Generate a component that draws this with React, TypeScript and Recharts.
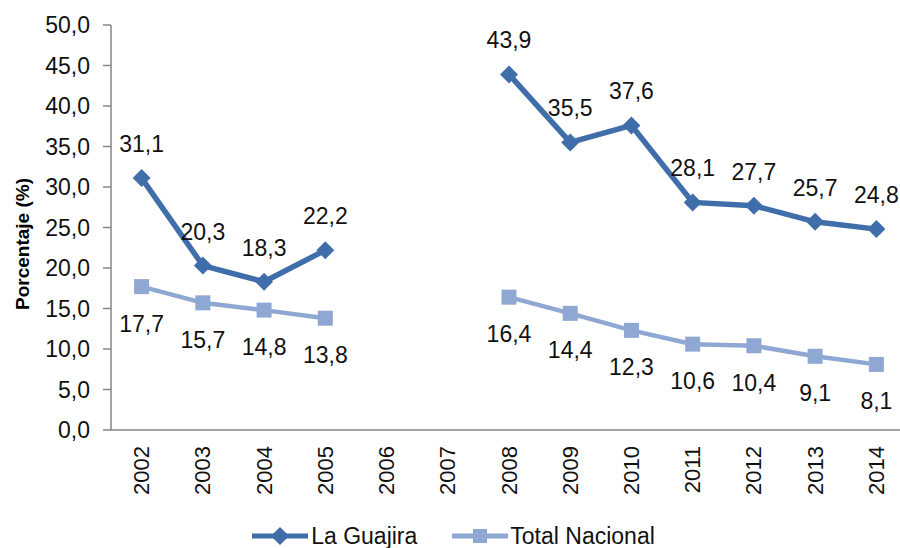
import React from 'react'
import { LineChart, Line, XAxis, YAxis, Legend, LabelList } from 'recharts'

const years = [2002, 2003, 2004, 2005, 2006, 2007, 2008, 2009, 2010, 2011, 2012, 2013, 2014]
const laGuajira = [31.1, 20.3, 18.3, 22.2, null, null, 43.9, 35.5, 37.6, 28.1, 27.7, 25.7, 24.8]
const totalNacional = [17.7, 15.7, 14.8, 13.8, null, null, 16.4, 14.4, 12.3, 10.6, 10.4, 9.1, 8.1]
const yTicks = [0, 5, 10, 15, 20, 25, 30, 35, 40, 45, 50]
const bandEdges = [2001.5, 2002.5, 2003.5, 2004.5, 2005.5, 2006.5, 2007.5, 2008.5, 2009.5, 2010.5, 2011.5, 2012.5, 2013.5, 2014.5]

const data = years.map((year, i) => ({ year, guajira: laGuajira[i], nacional: totalNacional[i] }))

const DARK = '#3F6EAA'
const LIGHT = '#8FA7D3'
const AXIS = '#868686'
const INK = '#111'
const FONT = '"Liberation Sans", Arial, sans-serif'

const fmt = (v: number) => v.toFixed(1).replace('.', ',')

const Diamond = ({ cx, cy }: any) => {
  if (cx == null || cy == null) return null
  return <path d={`M${cx},${cy - 9}L${cx + 9},${cy}L${cx},${cy + 9}L${cx - 9},${cy}Z`} fill={DARK} />
}

const Square = ({ cx, cy }: any) => {
  if (cx == null || cy == null) return null
  return <rect x={cx - 7.5} y={cy - 7.5} width={15} height={15} fill={LIGHT} />
}

const YearTick = ({ x, y, payload }: any) => (
  <text
    x={x} y={y}
    transform={`rotate(-90 ${x} ${y})`}
    textAnchor="end" dominantBaseline="central"
    fontSize={22} fill={INK} fontFamily={FONT}
  >
    {payload.value}
  </text>
)

const ValueLabel = (below: boolean) => (props: any) => {
  const { x, y, value } = props
  if (value == null) return null
  return (
    <text
      x={x} y={below ? y + 37 : y - 34}
      textAnchor="middle" dominantBaseline="central"
      fontSize={23} fill={INK} fontFamily={FONT}
    >
      {fmt(value)}
    </text>
  )
}

const LegendContent = () => (
  <div style={{ display: 'flex', justifyContent: 'center', gap: 35, height: 24, fontFamily: FONT, fontSize: 23, color: INK }}>
    <div style={{ display: 'flex', alignItems: 'center' }}>
      <svg width={56} height={24}>
        <line x1={0} y1={12} x2={56} y2={12} stroke={DARK} strokeWidth={5} />
        <path d="M28,3L37,12L28,21L19,12Z" fill={DARK} />
      </svg>
      <span style={{ marginLeft: 3, lineHeight: '24px' }}>La Guajira</span>
    </div>
    <div style={{ display: 'flex', alignItems: 'center' }}>
      <svg width={56} height={24}>
        <line x1={0} y1={12} x2={56} y2={12} stroke={LIGHT} strokeWidth={5} />
        <rect x={21} y={5} width={14} height={14} fill={LIGHT} />
      </svg>
      <span style={{ marginLeft: 2, lineHeight: '24px' }}>Total Nacional</span>
    </div>
  </div>
)

export default function App() {
  return (
    <div style={{ position: 'absolute', left: 0, top: 0, width: 900, height: 548, overflow: 'hidden', background: '#fff' }}>
      <LineChart width={920} height={548} data={data} margin={{ top: 25, right: 13, left: 0, bottom: 0 }}>
        <XAxis
          xAxisId="marks" dataKey="year" type="number" domain={[2001.5, 2014.5]}
          ticks={bandEdges} tick={false} axisLine={false}
          tickLine={{ stroke: AXIS, strokeWidth: 1.5 }} tickSize={7} height={1}
        />
        <XAxis
          dataKey="year" type="number" domain={[2001.5, 2014.5]} ticks={years}
          tick={<YearTick />} tickLine={false} tickSize={0} tickMargin={16}
          axisLine={{ stroke: AXIS, strokeWidth: 1.5 }} height={93}
        />
        <YAxis
          domain={[0, 50]} ticks={yTicks} width={111} interval={0}
          tickFormatter={fmt} tickSize={8} tickMargin={13}
          tick={{ fontSize: 23, fill: INK, fontFamily: FONT }}
          axisLine={{ stroke: AXIS, strokeWidth: 1.5 }}
          tickLine={{ stroke: AXIS, strokeWidth: 1.5 }}
          label={{
            content: () => (
              <text
                x={22} y={244} transform="rotate(-90 22 244)"
                textAnchor="middle" dominantBaseline="central"
                fontSize={19} fontWeight="bold" fill="#000" fontFamily={FONT}
              >
                Porcentaje (%)
              </text>
            ),
          }}
        />
        <Legend verticalAlign="bottom" content={<LegendContent />} />
        <Line
          dataKey="nacional" name="Total Nacional" stroke={LIGHT} strokeWidth={4.5}
          dot={<Square />} activeDot={false} isAnimationActive={false}
        >
          <LabelList dataKey="nacional" content={ValueLabel(true)} />
        </Line>
        <Line
          dataKey="guajira" name="La Guajira" stroke={DARK} strokeWidth={5.5}
          dot={<Diamond />} activeDot={false} isAnimationActive={false}
        >
          <LabelList dataKey="guajira" content={ValueLabel(false)} />
        </Line>
      </LineChart>
    </div>
  )
}
